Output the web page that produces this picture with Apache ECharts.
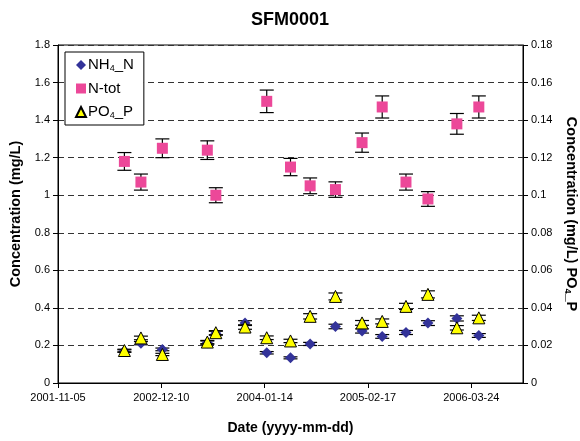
<!DOCTYPE html>
<html>
<head>
<meta charset="utf-8">
<script src="https://cdn.jsdelivr.net/npm/echarts@6/dist/echarts.min.js"></script>
<style>
  html, body { margin: 0; padding: 0; background: #fff; }
  #chart { width: 580px; height: 441px; }
</style>
</head>
<body>
<div id="chart"></div>
<script>
// sample dates shared by NH4_N and PO4_P
var sampleDates = ['2002-07-20', '2002-09-22', '2002-12-14', '2003-06-06', '2003-07-09', '2003-10-30',
    '2004-01-22', '2004-04-23', '2004-07-08', '2004-10-14', '2005-01-25', '2005-04-13',
    '2005-07-14', '2005-10-07', '2006-01-27', '2006-04-22'];
var nh4Values = [0.17, 0.212, 0.179, 0.215, 0.265, 0.319, 0.161, 0.134, 0.208, 0.301, 0.277, 0.248,
    0.269, 0.319, 0.344, 0.253];
var po4Values = [0.0173, 0.024, 0.0152, 0.0218, 0.0268, 0.0298, 0.0241, 0.0224, 0.0355, 0.0461, 0.032, 0.0328,
    0.0408, 0.0472, 0.0294, 0.0347];
// N-tot has no sample on 2003-10-30
var ntotDates = ['2002-07-20', '2002-09-22', '2002-12-14', '2003-06-06', '2003-07-09',
    '2004-01-22', '2004-04-23', '2004-07-08', '2004-10-14', '2005-01-25', '2005-04-13',
    '2005-07-14', '2005-10-07', '2006-01-27', '2006-04-22'];
var ntotValues = [1.18, 1.07, 1.25, 1.24, 1.0, 1.5, 1.15, 1.05, 1.03, 1.28, 1.47, 1.07, 0.98, 1.38, 1.47];
var errPct = 0.04; // percentage error bars

var xTicks = { min: 37200, max: 39000, step: 400 }; // excel serial days
var leftTicks = { min: 0, max: 1.8, step: 0.2 };
var rightTicks = { min: 0, max: 0.18, step: 0.02 };

function toSerial(s) {
    var p = s.split('-');
    return Date.UTC(+p[0], +p[1] - 1, +p[2]) / 86400000 + 25569;
}
function fromSerial(v) {
    var d = new Date((v - 25569) * 86400000);
    var mm = ('0' + (d.getUTCMonth() + 1)).slice(-2);
    var dd = ('0' + d.getUTCDate()).slice(-2);
    return d.getUTCFullYear() + '-' + mm + '-' + dd;
}

function points(dates, vals) {
    return dates.map(function (d, i) { return [toSerial(d), vals[i]]; });
}
function errors(dates, vals) {
    return dates.map(function (d, i) {
        return [toSerial(d), vals[i] * (1 - errPct), vals[i] * (1 + errPct)];
    });
}

function errorBar(params, api) {
    var lo = api.coord([api.value(0), api.value(1)]);
    var hi = api.coord([api.value(0), api.value(2)]);
    var w = 7;
    var st = { stroke: '#000', lineWidth: 1.2 };
    return {
        type: 'group',
        children: [
            { type: 'line', shape: { x1: lo[0], y1: lo[1], x2: hi[0], y2: hi[1] }, style: st },
            { type: 'line', shape: { x1: lo[0] - w, y1: lo[1], x2: lo[0] + w, y2: lo[1] }, style: st },
            { type: 'line', shape: { x1: hi[0] - w, y1: hi[1], x2: hi[0] + w, y2: hi[1] }, style: st }
        ]
    };
}

var font = 'Liberation Sans, Arial, sans-serif';
var chart = echarts.init(document.getElementById('chart'));

chart.setOption({
    animation: false,
    textStyle: { fontFamily: font },
    title: {
        text: 'SFM0001',
        left: 'center',
        top: 6,
        textStyle: { fontSize: 18, fontWeight: 'bold', color: '#000', fontFamily: font }
    },
    grid: {
        left: 58, right: 57, top: 45, bottom: 58,
        outerBoundsMode: 'none',
        show: true, borderColor: '#000', borderWidth: 1
    },
    legend: {
        orient: 'vertical',
        left: 65, top: 52,
        backgroundColor: '#fff',
        borderColor: '#000', borderWidth: 1,
        padding: [5, 10, 5, 10],
        itemGap: 8,
        itemWidth: 10, itemHeight: 10,
        data: [
            { name: 'NH4_N', icon: 'diamond' },
            { name: 'N-tot', icon: 'rect' },
            { name: 'PO4_P', icon: 'triangle' }
        ],
        formatter: function (name) {
            if (name === 'NH4_N') return '{a|NH}{s|4}{a|_N}';
            if (name === 'PO4_P') return '{a|PO}{s|4}{a|_P}';
            return '{a|' + name + '}';
        },
        textStyle: {
            padding: [0, 0, 0, -3],
            rich: {
                a: { fontSize: 15, color: '#000', fontFamily: font, lineHeight: 16 },
                s: { fontSize: 9, color: '#000', fontFamily: font, padding: [7, 0, 0, 0], lineHeight: 16 }
            }
        }
    },
    xAxis: {
        type: 'value',
        min: xTicks.min, max: xTicks.max, interval: xTicks.step,
        name: 'Date (yyyy-mm-dd)',
        nameLocation: 'middle',
        nameGap: 38,
        nameTextStyle: { fontSize: 14, fontWeight: 'bold', color: '#000', fontFamily: font },
        axisLine: { lineStyle: { color: '#000' } },
        axisTick: { length: 5, lineStyle: { color: '#000' } },
        axisLabel: {
            color: '#000', fontSize: 11, margin: 9, fontFamily: font,
            formatter: function (v) { return fromSerial(v); }
        },
        splitLine: { show: false }
    },
    yAxis: [
        {
            type: 'value',
            min: leftTicks.min, max: leftTicks.max, interval: leftTicks.step,
            name: 'Concentration (mg/L)',
            nameLocation: 'middle',
            nameGap: 35,
            nameTextStyle: { fontSize: 14.5, fontWeight: 'bold', color: '#000', fontFamily: font },
            axisLine: { show: true, lineStyle: { color: '#000' } },
            axisTick: { show: true, length: 5, lineStyle: { color: '#000' } },
            axisLabel: { color: '#000', fontSize: 11, margin: 8, fontFamily: font },
            splitLine: { show: true, lineStyle: { color: '#333', type: [6, 4], width: 1 } }
        },
        {
            type: 'value',
            position: 'right',
            min: rightTicks.min, max: rightTicks.max, interval: rightTicks.step,
            name: '{t|Concentration (mg/L) PO}{s|4}{t|_P}',
            nameLocation: 'middle',
            nameRotate: -90,
            nameGap: 34,
            nameTextStyle: {
                rich: {
                    t: { fontSize: 14.5, fontWeight: 'bold', color: '#000', fontFamily: font, lineHeight: 16 },
                    s: { fontSize: 9, fontWeight: 'bold', color: '#000', fontFamily: font, padding: [7, 0, 0, 0], lineHeight: 16 }
                }
            },
            axisLine: { show: true, lineStyle: { color: '#000' } },
            axisTick: { show: true, length: 5, lineStyle: { color: '#000' } },
            axisLabel: { color: '#000', fontSize: 11, margin: 8, fontFamily: font },
            splitLine: { show: false }
        }
    ],
    series: [
        {
            name: 'N-tot err', type: 'custom', renderItem: errorBar, z: 2,
            data: errors(ntotDates, ntotValues), silent: true
        },
        {
            name: 'NH4_N err', type: 'custom', renderItem: errorBar, z: 2,
            data: errors(sampleDates, nh4Values), silent: true
        },
        {
            name: 'NH4_N', type: 'scatter', symbol: 'diamond', symbolSize: 11, z: 3,
            itemStyle: { color: '#333399', opacity: 1 },
            data: points(sampleDates, nh4Values)
        },
        {
            name: 'N-tot', type: 'scatter', symbol: 'rect', symbolSize: 11, z: 3,
            itemStyle: { color: '#EC4899', opacity: 1 },
            data: points(ntotDates, ntotValues)
        },
        {
            name: 'PO4_P err', type: 'custom', renderItem: errorBar, z: 4, yAxisIndex: 1,
            data: errors(sampleDates, po4Values), silent: true
        },
        {
            name: 'PO4_P', type: 'scatter', symbol: 'triangle', symbolSize: 12, z: 5, yAxisIndex: 1,
            itemStyle: { color: '#FFFF00', borderColor: '#000', borderWidth: 1, opacity: 1 },
            data: points(sampleDates, po4Values)
        }
    ]
});
</script>
</body>
</html>
